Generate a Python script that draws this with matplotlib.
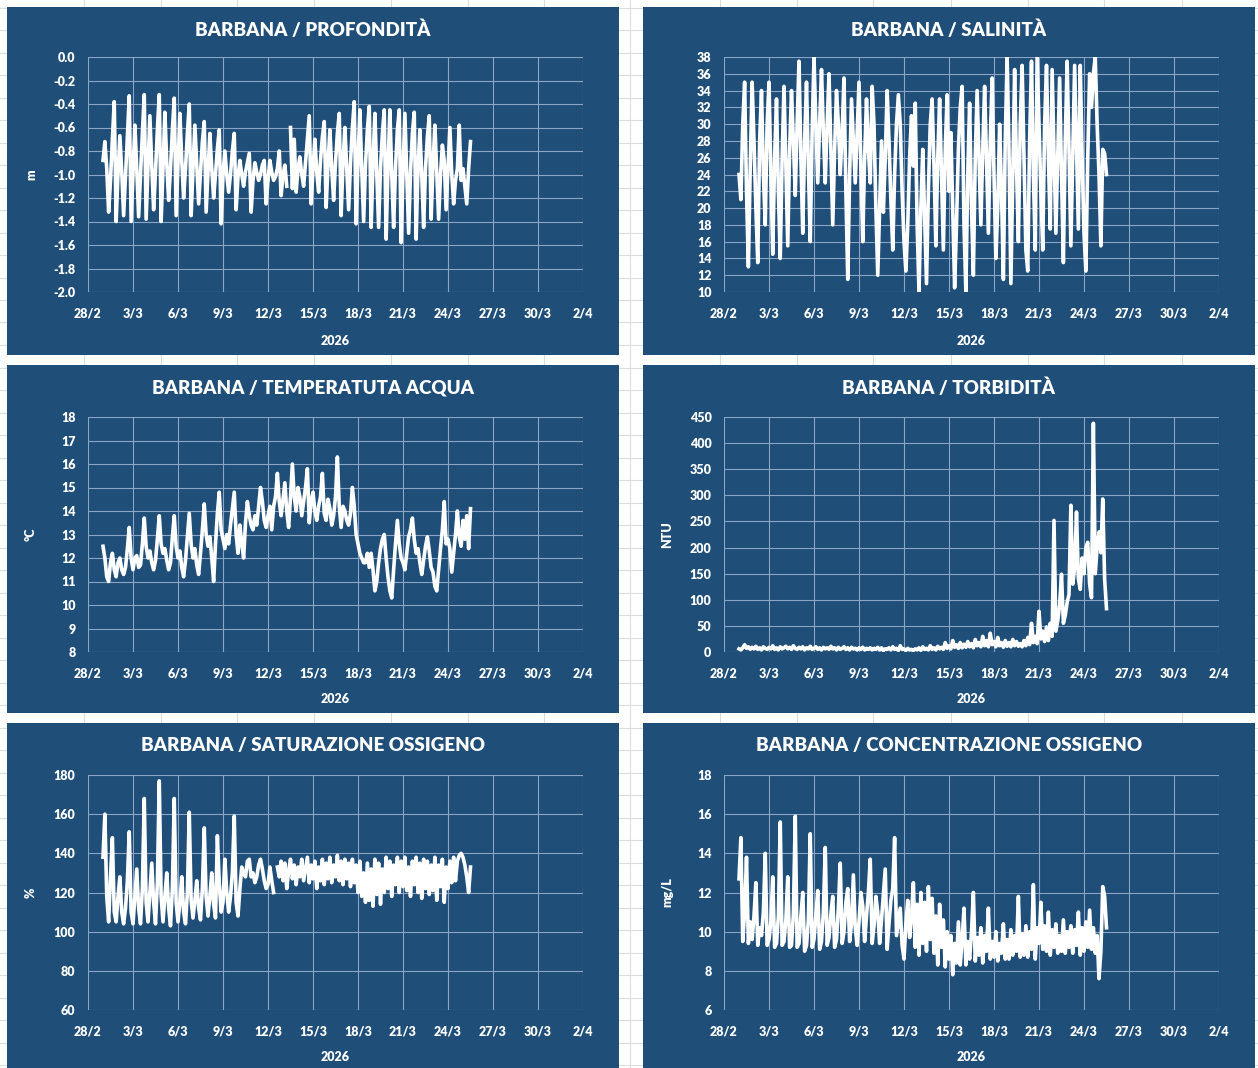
# -*- coding: utf-8 -*-
"""
Serie della sonda BARBANA - marzo 2026
Profondita, salinita, temperatura, torbidita, ossigeno
"""
#==============================================================================
#- librerie
#==============================================================================
import numpy as np
import pandas as pd
import matplotlib.pyplot as plt
from matplotlib.patches import Rectangle
from matplotlib.lines import Line2D

plt.rcParams['font.family'] = ['Lato', 'DejaVu Sans']

#==============================================================================
#- dati (passo 3 ore, dal 1/3 00:00 al 25/3 12:00)
#==============================================================================
tempo = pd.date_range('2026-03-01 00:00', periods=197, freq='3h')

# livello [m]
profondita = [
    -0.88, -0.72, -0.95, -1.32, -1.05, -0.70, -0.38, -1.40,
    -1.00, -0.67, -0.98, -1.35, -1.02, -0.68, -0.33, -1.40,
    -0.98, -0.58, -0.95, -1.36, -1.00, -0.65, -0.32, -1.38,
    -0.95, -0.50, -0.92, -1.30, -0.98, -0.62, -0.32, -1.40,
    -0.95, -0.47, -0.90, -1.22, -0.95, -0.62, -0.35, -1.35,
    -0.92, -0.48, -0.88, -1.20, -0.95, -0.65, -0.40, -1.35,
    -0.95, -0.58, -0.92, -1.25, -0.98, -0.72, -0.55, -1.32,
    -0.98, -0.65, -0.95, -1.20, -1.00, -0.78, -0.62, -1.42,
    -1.00, -0.80, -1.00, -1.15, -1.00, -0.80, -0.65, -1.30,
    -1.02, -0.88, -1.00, -1.10, -0.98, -0.90, -0.82, -1.32,
    -1.05, -0.90, -0.98, -1.05, -1.00, -0.92, -0.88, -1.25,
    -1.05, -0.88, -0.98, -1.05, -1.02, -0.95, -0.80, -1.18,
    -1.00, -0.92, -1.10, np.nan, -0.60, -1.12, -0.70, -1.15,
    -0.95, -0.85, -1.00, -1.10, -0.90, -0.70, -0.50, -1.25,
    -0.95, -0.70, -0.98, -1.15, -0.88, -0.68, -0.55, -1.28,
    -0.92, -0.62, -0.95, -1.22, -0.90, -0.65, -0.48, -1.35,
    -0.90, -0.60, -0.95, -1.30, -0.90, -0.60, -0.38, -1.42,
    -0.90, -0.45, -0.95, -1.40, -0.92, -0.62, -0.42, -1.45,
    -0.92, -0.48, -0.98, -1.45, -0.95, -0.65, -0.45, -1.55,
    -0.95, -0.45, -1.00, -1.45, -0.95, -0.62, -0.45, -1.58,
    -0.98, -0.48, -1.00, -1.50, -0.98, -0.65, -0.47, -1.55,
    -0.95, -0.62, -1.00, -1.45, -0.95, -0.68, -0.50, -1.38,
    -0.92, -0.58, -0.98, -1.38, -1.00, -0.75, -0.88, -1.30,
    -0.95, -0.60, -1.00, -1.25, -1.05, -0.95, -0.58, -1.05,
    -0.95, -1.10, -1.25, -0.95, -0.72]

# salinita [psu]
salinita = [
    24, 21, 30, 35, 22, 13, 25, 35,
    28, 20, 13.5, 28, 34, 24, 18, 30,
    35, 24, 14.5, 26, 33, 22, 14, 26,
    34.5, 25, 15.5, 27, 34, 28, 21.5, 30,
    37.5, 26, 17, 28, 35, 25, 16, 29,
    38, 30, 23, 30, 36.5, 29, 23, 30,
    36, 27, 18, 27, 34, 30, 24, 29,
    35.5, 22, 11.5, 24, 33, 28, 23, 29,
    35, 25, 16, 26, 33, 27, 23, 34.5,
    30, 20, 12, 20, 28, 19.5, 26, 34,
    28, 21, 15, 24, 30, 33.5, 30, 22,
    16, 12.5, 18, 26, 31, 25, 32.5, 18,
    10, 20, 27, 19, 11, 22, 30, 33,
    25, 15.5, 26, 33, 24, 15, 27, 33.5,
    22, 29, 20, 10.5, 18, 27, 32, 34.5,
    18, 10, 24, 32.5, 20, 12, 26, 34,
    26, 18, 27, 34.5, 26, 17, 28, 35.5,
    24, 14, 20, 30, 22, 11.5, 28, 38,
    27, 11, 24, 36.5, 25, 16, 30, 37,
    26, 15, 12.5, 28, 37.5, 24, 15, 38,
    30, 22, 15, 30, 37, 26, 17.5, 36.5,
    27, 17, 26, 35.5, 24, 13.5, 28, 37.5,
    27, 15.5, 26, 37, 27, 17.5, 37, 26,
    17, 12.5, 26, 36, 32, 36, 38, 30,
    24, 15.5, 27, 26.5, 24]

# temperatura acqua [gradi C]
temperatura = [
    12.5, 12.0, 11.2, 11.0, 11.8, 12.2, 11.5, 11.2,
    11.8, 12.0, 11.5, 11.3, 11.6, 12.4, 13.3, 12.0,
    11.5, 12.0, 12.1, 11.6, 11.7, 12.6, 13.7, 12.5,
    12.0, 12.3, 11.8, 11.5, 11.9, 12.8, 13.8, 12.6,
    12.2, 12.4, 11.9, 11.5, 11.8, 12.9, 13.8, 12.5,
    12.0, 12.3, 11.6, 11.2, 11.9, 12.9, 13.9, 12.6,
    12.0, 12.4, 11.7, 11.3, 12.2, 13.2, 14.3, 13.0,
    12.5, 12.9, 12.0, 11.0, 12.6, 13.9, 14.8, 13.2,
    12.8, 12.4, 13.0, 12.6, 13.4, 14.1, 14.8, 13.0,
    12.2, 13.4, 12.6, 12.0, 13.5, 14.4, 13.8, 13.4,
    13.2, 13.8, 13.4, 14.2, 15.0, 14.4, 13.6, 13.3,
    13.8, 14.2, 13.2, 14.2, 14.6, 15.6, 14.4, 13.8,
    14.5, 15.2, 14.0, 13.3, 14.6, 16.0, 14.6, 14.0,
    15.0, 14.6, 13.8, 14.4, 15.0, 15.8, 13.5, 14.4,
    14.8, 14.0, 13.6, 14.2, 14.6, 15.6, 13.9, 13.6,
    14.5, 14.1, 13.4, 13.8, 14.6, 16.3, 14.2, 13.3,
    14.2, 14.0, 13.6, 13.4, 13.9, 15.0, 14.2, 13.0,
    12.6, 12.2, 12.0, 11.8, 11.8, 12.2, 11.6, 12.2,
    11.5, 10.6, 11.0, 11.8, 12.4, 12.8, 13.0, 12.0,
    11.2, 10.6, 10.3, 11.5, 12.6, 13.6, 12.6, 12.0,
    11.8, 11.5, 12.2, 12.9, 13.2, 13.7, 12.8, 12.2,
    12.4, 11.8, 11.3, 11.9, 12.5, 12.9, 12.3, 11.6,
    11.4, 10.8, 10.6, 11.5, 12.4, 13.2, 14.4, 12.6,
    12.8, 12.4, 11.4, 12.2, 13.0, 14.0, 12.9, 12.5,
    13.6, 12.8, 13.8, 12.4, 14.1]

# torbidita [NTU]
torbidita = [
    6, 4, 8, 14, 7, 10, 5, 9,
    6, 11, 5, 8, 4, 10, 7, 5,
    9, 6, 12, 5, 8, 4, 10, 6,
    8, 11, 6, 9, 5, 12, 7, 5,
    9, 6, 10, 4, 8, 6, 11, 5,
    7, 10, 5, 8, 4, 9, 6, 8,
    5, 11, 6, 8, 4, 9, 5, 7,
    10, 5, 8, 4, 9, 6, 7, 4,
    8, 5, 9, 4, 7, 5, 8, 4,
    7, 5, 9, 4, 8, 3, 6, 5,
    8, 4, 10, 5, 7, 3, 12, 5,
    6, 3, 7, 4, 5, 3, 6, 4,
    8, 3, 10, 5, 7, 4, 12, 5,
    8, 4, 11, 6, 9, 5, 18, 7,
    12, 6, 22, 9, 14, 7, 18, 8,
    15, 9, 20, 10, 16, 8, 24, 12,
    18, 10, 30, 12, 22, 10, 36, 14,
    20, 10, 28, 12, 18, 9, 22, 11,
    18, 10, 24, 12, 20, 11, 16, 10,
    22, 12, 28, 14, 55, 18, 30, 16,
    78, 25, 40, 20, 48, 22, 55, 30,
    252, 40, 60, 90, 149, 55, 70, 95,
    110, 281, 130, 160, 268, 140, 120, 180,
    150, 200, 210, 130, 104, 438, 150, 200,
    230, 190, 293, 140, 83]

# saturazione ossigeno [%]
saturazione = [
    138, 160, 118, 105, 128, 148, 110, 105,
    118, 128, 110, 104, 112, 126, 151, 110,
    104, 118, 132, 112, 104, 122, 168, 115,
    105, 120, 135, 115, 104, 125, 177, 118,
    105, 118, 130, 112, 103, 122, 168, 115,
    105, 115, 128, 110, 104, 120, 161, 116,
    107, 116, 126, 112, 106, 122, 153, 118,
    108, 118, 130, 114, 107, 149, 125, 110,
    115, 137, 120, 110, 118, 130, 159, 115,
    108, 122, 133, 130, 128, 136, 137, 128,
    130, 125, 128, 134, 137, 132, 126, 122,
    124, 133, 126, 120, np.nan, 133, 128, 136,
    126, 135, 122, 131, 137, 127, 134, 124,
    133, 128, 137, 126, 132, 138, 125, 134,
    127, 136, 122, 133, 126, 137, 124, 135,
    127, 138, 125, 134, 128, 139, 126, 136,
    124, 137, 127, 135, 123, 137, 125, 134,
    120, 136, 118, 130, 115, 135, 116, 132,
    113, 137, 119, 135, 114, 132, 120, 138,
    122, 136, 118, 134, 124, 138, 120, 136,
    123, 138, 121, 133, 118, 136, 124, 138,
    120, 135, 117, 137, 122, 136, 119, 134,
    121, 138, 116, 134, 123, 137, 115, 133,
    122, 136, 125, 138, 126, 136, 139, 140,
    138, 134, 128, 120, 133]

# concentrazione ossigeno [mg/L]
concentrazione = [
    12.7, 14.8, 9.5, 11.0, 13.8, 9.4, 10.5, 9.6,
    10.8, 12.5, 9.3, 10.2, 9.8, 11.0, 14.0, 9.3,
    9.6, 10.5, 12.8, 9.2, 9.4, 10.8, 15.6, 9.3,
    9.5, 10.6, 12.8, 9.2, 9.3, 10.9, 15.9, 9.2,
    9.4, 10.8, 12.0, 9.0, 9.3, 10.6, 15.0, 9.2,
    9.6, 10.8, 12.1, 9.1, 9.5, 11.0, 14.3, 9.3,
    9.7, 10.9, 11.8, 9.2, 9.6, 11.2, 13.5, 9.4,
    10.0, 11.5, 12.2, 9.5, 10.4, 12.9, 10.2, 9.3,
    10.5, 12.0, 11.3, 9.5, 10.8, 12.0, 13.7, 9.4,
    10.3, 11.8, 11.0, 9.4, 10.6, 11.9, 13.2, 9.1,
    10.4, 11.6, 12.2, 14.8, 9.8, 10.5, 11.2, 9.3,
    8.6, 10.4, 11.6, 9.7, 10.8, 12.5, 9.2, 11.4,
    8.8, 12.0, 9.4, 11.5, 9.0, 12.3, 9.6, 11.7,
    8.9, 10.8, 8.3, 11.4, 9.2, 10.6, 8.2, 10.0,
    8.6, 9.8, 7.8, 9.4, 8.4, 10.5, 8.3, 9.6,
    11.2, 8.3, 9.5, 8.6, 10.0, 12.0, 8.5, 9.7,
    8.8, 10.2, 8.4, 9.8, 9.0, 11.2, 8.6, 9.5,
    8.7, 10.0, 8.5, 9.4, 8.9, 10.4, 8.6, 9.6,
    8.6, 10.1, 8.8, 9.8, 9.0, 11.8, 8.7, 9.9,
    8.8, 10.3, 8.7, 10.0, 9.1, 12.4, 8.6, 10.2,
    9.4, 11.5, 9.1, 10.3, 9.0, 11.0, 8.8, 10.1,
    9.2, 10.4, 8.9, 9.8, 9.0, 10.6, 8.9, 10.0,
    9.2, 10.3, 8.9, 10.1, 9.3, 11.0, 8.8, 10.2,
    9.0, 10.5, 9.2, 11.1, 9.1, 10.2, 8.9, 9.8,
    7.6, 9.0, 12.3, 11.8, 10.2]

#==============================================================================
#- figura
#==============================================================================
W, H = 1258, 1068
blu = '#1f4e79'
griglia = '#8ba5c4'

fig = plt.figure(figsize=(W / 100, H / 100), dpi=100)
fig.patch.set_facecolor('white')

# righe del foglio di calcolo dietro ai grafici
for x in [84, 161, 237, 314, 391, 468, 544, 630, 720, 797, 873, 951, 1028, 1104, 1182]:
    fig.add_artist(Line2D([x / W, x / W], [0, 1], color='#dcdcdc', lw=0.8, zorder=0))
for y in np.arange(7.5, H, 22.5):
    fig.add_artist(Line2D([0, 1], [1 - y / H, 1 - y / H], color='#dcdcdc', lw=0.8, zorder=0))

giorni = pd.date_range('2026-02-28', '2026-04-02', freq='3D')
etichette = [str(g.day) + '/' + str(g.month) for g in giorni]


def pannello(px, py, titolo, valori, ymin, ymax, passo, fmt, unita, dy_plot):
    # sfondo blu del grafico (coordinate in pixel dall'alto a sinistra)
    fig.add_artist(Rectangle((px / W, 1 - (py + 348) / H), 612 / W, 348 / H,
                             transform=fig.transFigure, facecolor=blu,
                             edgecolor='none', zorder=1))
    x0 = px + 81
    y0 = py + dy_plot
    ax = fig.add_axes([x0 / W, 1 - (y0 + 235) / H, 495 / W, 235 / H], zorder=2)
    ax.set_facecolor(blu)
    ax.plot(tempo, valori, color='white', lw=2.6, solid_joinstyle='round')
    ax.set_xlim(giorni[0], giorni[-1])
    ax.set_ylim(ymin, ymax)
    ax.set_xticks(giorni)
    ax.set_xticklabels(etichette)
    yt = np.round(np.arange(ymin, ymax + passo / 2, passo), 6)
    ax.set_yticks(yt)
    ax.set_yticklabels([fmt.format(v + 0.0) if v != 0 else fmt.format(0.0) for v in yt])
    ax.grid(True, color=griglia, lw=0.8)
    ax.set_axisbelow(True)
    for s in ax.spines.values():
        s.set_visible(False)
    ax.tick_params(length=0, colors='white', labelsize=9)
    ax.tick_params(axis='x', pad=11)
    ax.tick_params(axis='y', pad=9)
    for lab in ax.get_xticklabels() + ax.get_yticklabels():
        lab.set_fontweight('heavy')
    if unita:
        ax.set_ylabel(unita, color='white', fontsize=9, fontweight='heavy')
        ax.yaxis.set_label_coords(-51 / 495, 0.5)
    fig.text((px + 306) / W, 1 - (py + 23) / H, titolo, color='white',
             fontsize=13.5, fontweight='heavy', ha='center', va='center', zorder=3)
    fig.text((x0 + 247) / W, 1 - (py + 334) / H, '2026', color='white',
             fontsize=9, fontweight='heavy', ha='center', va='center', zorder=3)
    return ax


pannello(7, 7, 'BARBANA / PROFONDITÀ', profondita, -2.0, 0.0, 0.2, '{:.1f}', 'm', 50)
pannello(643, 7, 'BARBANA / SALINITÀ', salinita, 10, 38, 2, '{:.0f}', None, 50)
pannello(7, 365, 'BARBANA / TEMPERATUTA ACQUA', temperatura, 8, 18, 1, '{:.0f}', '°C', 52)
pannello(643, 365, 'BARBANA / TORBIDITÀ', torbidita, 0, 450, 50, '{:.0f}', 'NTU', 52)
pannello(7, 723, 'BARBANA / SATURAZIONE OSSIGENO', saturazione, 60, 180, 20, '{:.0f}', '%', 52)
pannello(643, 723, 'BARBANA / CONCENTRAZIONE OSSIGENO', concentrazione, 6, 18, 2, '{:.0f}', 'mg/L', 52)

plt.savefig('out.png', dpi=100)
plt.close()
